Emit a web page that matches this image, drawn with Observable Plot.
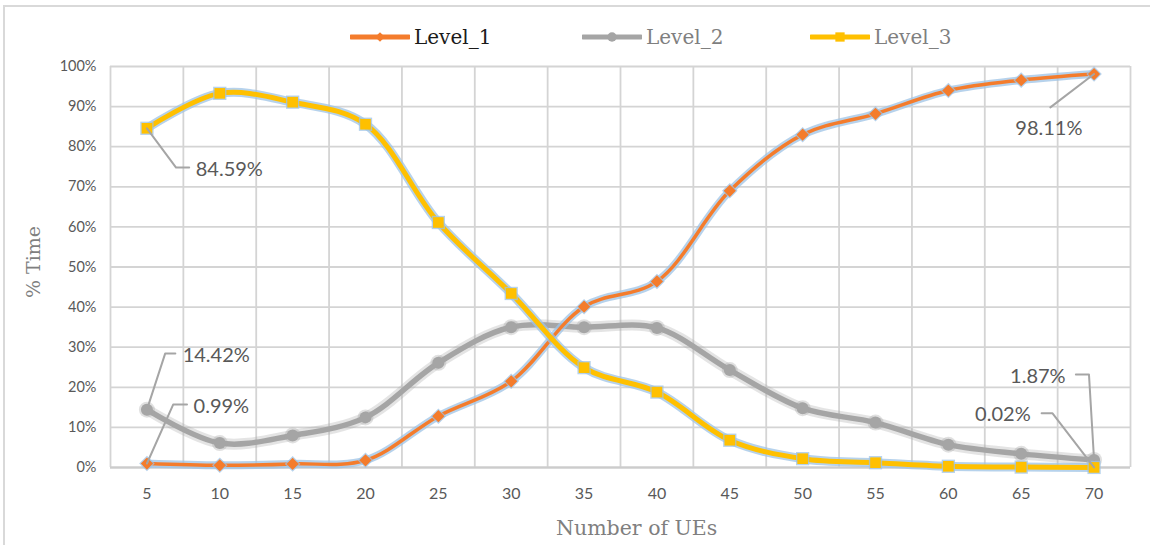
<!DOCTYPE html>
<html>
<head>
<meta charset="utf-8">
<script src="https://cdn.jsdelivr.net/npm/d3@7"></script>
<script src="https://cdn.jsdelivr.net/npm/@observablehq/plot@0.6"></script>
<style>
  html, body { margin: 0; padding: 0; background: #fff; }
  #wrap { position: relative; width: 1150px; height: 545px; overflow: hidden; background: #fff; }
  #frame { position: absolute; left: 3px; top: 5px; width: 1160px; height: 600px; border: 2px solid #d9d9d9; box-sizing: border-box; }
  #legend { position: absolute; left: 0; top: 0; width: 1150px; height: 50px; }
  .lg { position: absolute; top: 24px; height: 26px; display: flex; align-items: center; font-family: "DejaVu Serif", serif; font-size: 20px; }
  .lg svg { margin-right: 4px; }
  #chart { position: absolute; left: 0; top: 50px; }
  .axlab { position: absolute; font-family: "DejaVu Serif", serif; color: #7f7f7f; white-space: nowrap; }
</style>
</head>
<body>
<div id="wrap">
  <div id="frame"></div>
  <div id="legend"></div>
  <div id="chart"></div>
  <div class="axlab" id="xlab" style="left:556px; top:516px; font-size:20.5px;">Number of UEs</div>
  <div class="axlab" id="ylab" style="left:33px; top:262px; font-size:19px; transform: translate(-50%,-50%) rotate(-90deg);">% Time</div>
</div>
<script>
// ---- data ----
const ues = [5, 10, 15, 20, 25, 30, 35, 40, 45, 50, 55, 60, 65, 70];
const level1 = [0.99, 0.55, 0.9, 1.8, 12.8, 21.5, 40.1, 46.4, 69.0, 83.0, 88.2, 94.0, 96.6, 98.11];
const level2 = [14.42, 6.1, 8.0, 12.5, 26.1, 35.0, 35.0, 34.8, 24.3, 14.8, 11.2, 5.7, 3.4, 1.87];
const level3 = [84.59, 93.3, 91.1, 85.6, 61.1, 43.4, 24.9, 18.8, 6.8, 2.2, 1.2, 0.3, 0.1, 0.02];
const yTicks = [0, 10, 20, 30, 40, 50, 60, 70, 80, 90, 100];
const seriesNames = ["Level_1", "Level_2", "Level_3"];
const seriesColors = ["#f47c2c", "#a5a5a5", "#ffc000"];

// data labels with leader lines (positions in data units)
const labels = [
  {text: "84.59%", x: 8.35, y: 74.4, anchor: "start", path: [[5, 84.59], [7.0, 74.8], [7.9, 74.8]]},
  {text: "14.42%", x: 7.45, y: 28.0, anchor: "start", path: [[5, 14.42], [6.25, 28.4], [6.95, 28.4]]},
  {text: "0.99%",  x: 8.2,  y: 15.2, anchor: "start", path: [[5, 0.99], [6.8, 15.7], [7.75, 15.7]]},
  {text: "98.11%", x: 66.9, y: 84.6, anchor: "middle", path: [[70, 98.11], [67.0, 89.8]]},
  {text: "1.87%",  x: 68.05, y: 22.6, anchor: "end", path: [[68.75, 23.2], [69.65, 23.2], [70, 1.87]]},
  {text: "0.02%",  x: 65.65, y: 13.2, anchor: "end", path: [[66.4, 13.5], [67.15, 13.5], [70, 0.02]]}
];

// ---- tidy table ----
const rows = [];
[level1, level2, level3].forEach((vals, i) => {
  vals.forEach((v, j) => rows.push({series: seriesNames[i], x: ues[j], y: v}));
});
const s = name => rows.filter(d => d.series === name);
const gridX = ues.map(u => u - 2.5).concat([ues[ues.length - 1] + 2.5]);
const leaderSegs = [];
labels.forEach((l, k) => l.path.forEach(p => leaderSegs.push({k, x: p[0], y: p[1]})));
const labelText = anchor => Plot.text(labels.filter(l => l.anchor === anchor), {x: "x", y: "y", text: "text", textAnchor: anchor, fontSize: 20, fill: "#595959"});

const glow = "#9dc3e6";
const chart = Plot.plot({
  width: 1150,
  height: 495,
  marginLeft: 110,
  marginRight: 20,
  marginTop: 16,
  marginBottom: 78,
  style: {fontFamily: "Lato, 'Open Sans', sans-serif", background: "transparent"},
  x: {type: "linear", domain: [2.5, 72.5], label: null},
  y: {domain: [0, 100], label: null},
  marks: [
    Plot.gridY(yTicks, {stroke: "#d4d4d4", strokeOpacity: 1, strokeWidth: 1.8}),
    Plot.gridX(gridX, {stroke: "#d4d4d4", strokeOpacity: 1, strokeWidth: 1.8}),
    Plot.ruleY([0], {stroke: "#cccccc", strokeWidth: 2}),
    Plot.axisY(yTicks, {tickSize: 0, tickPadding: 14, tickFormat: d => d + "%", fontSize: 14.5, color: "#595959"}),
    Plot.axisX(ues, {tickSize: 0, tickPadding: 20, fontSize: 16, color: "#595959"}),
    // Level_2 (gray, soft glow)
    Plot.line(s("Level_2"), {x: "x", y: "y", curve: "catmull-rom", stroke: "#a5a5a5", strokeWidth: 11, strokeOpacity: 0.3}),
    Plot.line(s("Level_2"), {x: "x", y: "y", curve: "catmull-rom", stroke: "#a5a5a5", strokeWidth: 5.5}),
    Plot.dot(s("Level_2"), {x: "x", y: "y", r: 8, fill: "#a5a5a5", fillOpacity: 0.35}),
    Plot.dot(s("Level_2"), {x: "x", y: "y", r: 6, fill: "#a5a5a5"}),
    // Level_1 (orange, blue glow)
    Plot.line(s("Level_1"), {x: "x", y: "y", curve: "catmull-rom", stroke: glow, strokeWidth: 8, strokeOpacity: 0.75}),
    Plot.line(s("Level_1"), {x: "x", y: "y", curve: "catmull-rom", stroke: "#f47c2c", strokeWidth: 3.5}),
    Plot.dot(s("Level_1"), {x: "x", y: "y", symbol: "diamond2", r: 7, fill: glow, fillOpacity: 0.75}),
    Plot.dot(s("Level_1"), {x: "x", y: "y", symbol: "diamond2", r: 5.5, fill: "#f47c2c"}),
    // Level_3 (yellow, blue glow)
    Plot.line(s("Level_3"), {x: "x", y: "y", curve: "catmull-rom", stroke: glow, strokeWidth: 9, strokeOpacity: 0.75}),
    Plot.line(s("Level_3"), {x: "x", y: "y", curve: "catmull-rom", stroke: "#ffc000", strokeWidth: 5}),
    Plot.dot(s("Level_3"), {x: "x", y: "y", symbol: "square", r: 7.5, fill: glow, fillOpacity: 0.75}),
    Plot.dot(s("Level_3"), {x: "x", y: "y", symbol: "square", r: 6, fill: "#ffc000"}),
    // leader lines and labels
    Plot.line(leaderSegs, {x: "x", y: "y", z: "k", stroke: "#a5a5a5", strokeWidth: 2}),
    labelText("start"),
    labelText("middle"),
    labelText("end")
  ]
});
document.getElementById("chart").appendChild(chart);

// ---- legend ----
const legendLeft = [350, 582, 810];
const symbols = [d3.symbolDiamond2, d3.symbolCircle, d3.symbolSquare2];
const symSizes = [60, 70, 110];
const textColors = ["#1a1a1a", "#7f7f7f", "#7f7f7f"];
const leg = document.getElementById("legend");
seriesNames.forEach((name, i) => {
  const item = document.createElement("div");
  item.className = "lg";
  item.style.left = legendLeft[i] + "px";
  const sym = d3.symbol().type(symbols[i]).size(symSizes[i])();
  item.innerHTML = `<svg width="60" height="20"><line x1="1" x2="59" y1="10" y2="10" stroke="${seriesColors[i]}" stroke-width="5" stroke-linecap="round"/><path d="${sym}" transform="translate(30,10)" fill="${seriesColors[i]}"/></svg><span style="color:${textColors[i]}">${name}</span>`;
  leg.appendChild(item);
});
</script>
</body>
</html>
